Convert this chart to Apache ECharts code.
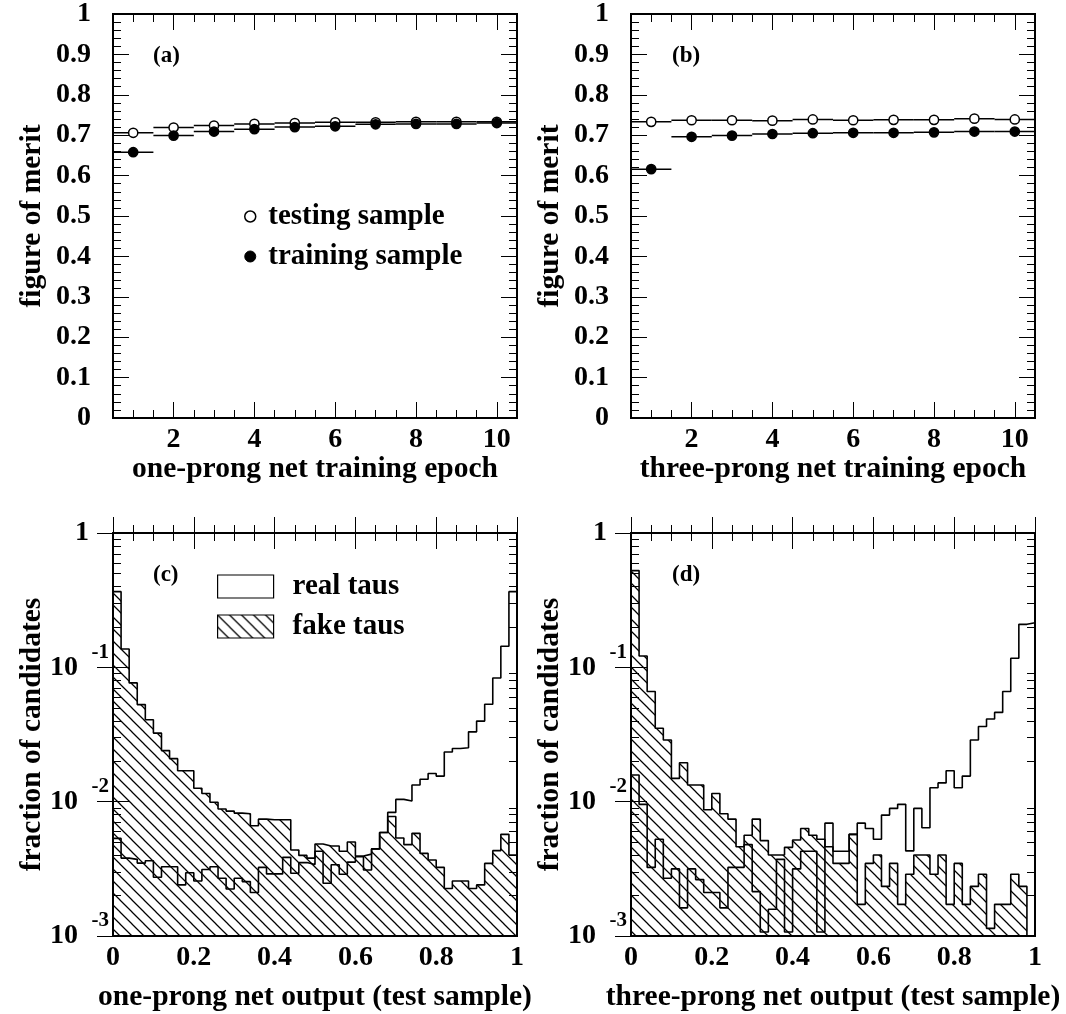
<!DOCTYPE html>
<html>
<head>
<meta charset="utf-8">
<title>Tau identification network performance</title>
<script src="https://cdn.jsdelivr.net/npm/echarts@6.0.0/dist/echarts.min.js"></script>
<style>
  html, body { margin: 0; padding: 0; background: #fff; }
  #chart { width: 1066px; height: 1014px; }
</style>
</head>
<body>
<div id="chart"></div>
<script>
// ---- figure of merit per training epoch ----
const epochs = [1, 2, 3, 4, 5, 6, 7, 8, 9, 10];
const oneProngTesting    = [0.706, 0.719, 0.724, 0.728, 0.730, 0.732, 0.732, 0.733, 0.733, 0.733];
const oneProngTraining   = [0.658, 0.699, 0.709, 0.715, 0.720, 0.722, 0.727, 0.728, 0.728, 0.730];
const threeProngTesting  = [0.733, 0.737, 0.737, 0.736, 0.739, 0.737, 0.738, 0.738, 0.741, 0.739];
const threeProngTraining = [0.616, 0.696, 0.699, 0.703, 0.705, 0.706, 0.706, 0.707, 0.709, 0.709];

// ---- net output distributions, 50 equal bins on [0, 1], fraction of candidates ----
const oneProngReal = [
  0.00533, 0.00380, 0.00372, 0.00349, 0.00363, 0.00274, 0.00328, 0.00328, 0.00240, 0.00296,
  0.00257, 0.00313, 0.00328, 0.00269, 0.00224, 0.00269, 0.00254, 0.00211, 0.00324, 0.00290,
  0.00290, 0.00385, 0.00293, 0.00352, 0.00341, 0.00427, 0.00247, 0.00339, 0.00288, 0.00355,
  0.00389, 0.00310, 0.00445, 0.00589, 0.00832, 0.0104, 0.0101, 0.0133, 0.0147, 0.0162,
  0.0155, 0.0234, 0.0249, 0.0252, 0.0331, 0.0398, 0.0531, 0.0832, 0.1435, 0.366
];
const oneProngFake = [
  0.366, 0.137, 0.0766, 0.0528, 0.0407, 0.0324, 0.0240, 0.0209, 0.0170, 0.0170,
  0.0126, 0.0115, 0.00989, 0.00881, 0.00851, 0.00822, 0.00813, 0.00661, 0.00741, 0.00733,
  0.00733, 0.00733, 0.00437, 0.00398, 0.00380, 0.00484, 0.00468, 0.00468, 0.00427, 0.00501,
  0.00394, 0.00407, 0.00445, 0.00589, 0.00776, 0.00537, 0.00479, 0.00581, 0.00412, 0.00368,
  0.00324, 0.00226, 0.00257, 0.00257, 0.00226, 0.00240, 0.00347, 0.00432, 0.00571, 0.00401
];
const threeProngReal = [
  0.0158, 0.00955, 0.00324, 0.00525, 0.00269, 0.00316, 0.00162, 0.00316, 0.00263, 0.00211,
  0.00211, 0.00162, 0.00324, 0.00324, 0.00479, 0.00214, 0.00107, 0.00158, 0.00372, 0.00107,
  0.00316, 0.00427, 0.00427, 0.00107, 0.00692, 0.00427, 0.00427, 0.00571, 0.00692, 0.00631,
  0.00525, 0.00794, 0.00891, 0.00955, 0.00430, 0.00891, 0.00640, 0.0127, 0.0138, 0.0170,
  0.0127, 0.0155, 0.0288, 0.0363, 0.0412, 0.0462, 0.0661, 0.1167, 0.209, 0.215
];
const threeProngFake = [
  0.525, 0.1213, 0.0661, 0.0352, 0.0288, 0.0149, 0.0195, 0.0133, 0.0133, 0.00871,
  0.0115, 0.00813, 0.00741, 0.00462, 0.00562, 0.00741, 0.00513, 0.00401, 0.00401, 0.00457,
  0.00519, 0.00631, 0.00562, 0.00525, 0.00462, 0.00347, 0.00347, 0.00571, 0.00172, 0.00347,
  0.00401, 0.00234, 0.00347, 0.00172, 0.00288, 0.00401, 0.00401, 0.00288, 0.00401, 0.00172,
  0.00347, 0.00172, 0.00234, 0.00288, 0.00114, 0.00172, 0.00172, 0.00288, 0.00234, 0
];

// ---- tick values ----
const epochTicks = [2, 4, 6, 8, 10];
const epochMinorTicks = [1, 1.5, 2.5, 3, 3.5, 4.5, 5, 5.5, 6.5, 7, 7.5, 8.5, 9, 9.5];
const LOG_MIN = 0.001, LOG_MAX = 1;

// log-scale minor ticks (2..9 within each decade), expressed as log10 values
const decadeMinorTicks = [];
for (let e = Math.log10(LOG_MIN); e < Math.log10(LOG_MAX); e++) {
  for (let k = 2; k <= 9; k++) decadeMinorTicks.push(e + Math.log10(k));
}

const FONT = 'Liberation Serif';
const labelFont = { fontFamily: FONT, fontWeight: 'bold', fontSize: 28, color: '#000' };
const nameFont  = { fontFamily: FONT, fontWeight: 'bold', fontSize: 29.5, color: '#000' };

// diagonal hatching used for the fake-tau histograms
function makeHatch(size) {
  const c = document.createElement('canvas');
  c.width = size; c.height = size;
  const ctx = c.getContext('2d');
  ctx.strokeStyle = '#000';
  ctx.lineWidth = 1.25;
  ctx.beginPath();
  ctx.moveTo(-1, -1); ctx.lineTo(size + 1, size + 1);
  ctx.moveTo(-1, size - 1); ctx.lineTo(1, size + 1);
  ctx.moveTo(size - 1, -1); ctx.lineTo(size + 1, 1);
  ctx.stroke();
  return c;
}
const hatchFill = { image: makeHatch(12), repeat: 'repeat' };

const tickLine = { color: '#000', width: 1 };
function ticks(len, extra) {
  return Object.assign({ show: true, inside: true, length: len, lineStyle: tickLine }, extra || {});
}

const grids = [
  { left: 113, top: 14,  width: 404, height: 404 },
  { left: 631, top: 14,  width: 404, height: 404 },
  { left: 113, top: 533, width: 404, height: 403 },
  { left: 631, top: 533, width: 404, height: 403 }
].map(g => Object.assign({
  show: true, borderColor: '#000', borderWidth: 2,
  backgroundColor: 'rgba(0,0,0,0)', containLabel: false, outerBoundsMode: 'none'
}, g));

const xAxes = [], yAxes = [], series = [];
function addAxis(list, cfg) { list.push(cfg); return list.length - 1; }

// points with a horizontal bar spanning the epoch bin
function meritSeries(name, xs, ys, xi, yi, filled) {
  return {
    type: 'custom', name, xAxisIndex: xi, yAxisIndex: yi, silent: true,
    z: filled ? 4 : 3,
    data: xs.map((x, i) => [x, ys[i]]),
    renderItem(params, api) {
      const x = api.value(0), y = api.value(1);
      const a = api.coord([x - 0.5, y]);
      const b = api.coord([x + 0.5, y]);
      const c = api.coord([x, y]);
      return {
        type: 'group',
        children: [
          { type: 'line', shape: { x1: a[0], y1: a[1], x2: b[0], y2: b[1] },
            style: { stroke: '#000', lineWidth: 1.5 } },
          { type: 'circle', shape: { cx: c[0], cy: c[1], r: 4.6 },
            style: { fill: filled ? '#000' : '#fff', stroke: '#000', lineWidth: 1.5 } }
        ]
      };
    }
  };
}

// step histogram; bins below the axis floor sit on the frame
function histSeries(name, values, xi, yi, hatched) {
  const n = values.length;
  const pts = values.map((v, i) => [i / n, Math.max(v, LOG_MIN)]);
  pts.push([1, Math.max(values[n - 1], LOG_MIN)]);
  const s = {
    type: 'line', name, xAxisIndex: xi, yAxisIndex: yi, data: pts,
    step: 'end', symbol: 'none', silent: true, z: hatched ? 2 : 3,
    lineStyle: { color: '#000', width: 1.6 }
  };
  if (hatched) s.areaStyle = { color: hatchFill, opacity: 1, origin: 'start' };
  return s;
}

function meritPanel(g, xName, testing, training) {
  const xc = { gridIndex: g, type: 'value', min: 0.5, max: 10.5,
    axisLine: { show: false }, splitLine: { show: false } };
  const xb = addAxis(xAxes, Object.assign({}, xc, {
    position: 'bottom',
    axisTick: ticks(16, { customValues: epochTicks }),
    axisLabel: Object.assign({ customValues: epochTicks, margin: 8 }, labelFont),
    name: xName, nameLocation: 'middle', nameGap: 36, nameTextStyle: nameFont, nameMoveOverlap: false
  }));
  addAxis(xAxes, Object.assign({}, xc, { position: 'bottom',
    axisTick: ticks(8, { customValues: epochMinorTicks }), axisLabel: { show: false } }));
  addAxis(xAxes, Object.assign({}, xc, { position: 'top',
    axisTick: ticks(16, { customValues: epochTicks }), axisLabel: { show: false } }));
  addAxis(xAxes, Object.assign({}, xc, { position: 'top',
    axisTick: ticks(8, { customValues: epochMinorTicks }), axisLabel: { show: false } }));

  const yc = { gridIndex: g, type: 'value', min: 0, max: 1, interval: 0.1,
    axisLine: { show: false }, splitLine: { show: false },
    minorTick: { show: true, splitNumber: 5, length: 8, lineStyle: tickLine },
    minorSplitLine: { show: false } };
  const yl = addAxis(yAxes, Object.assign({}, yc, {
    position: 'left', axisTick: ticks(16),
    axisLabel: Object.assign({ margin: 22, showMinLabel: true, showMaxLabel: true }, labelFont),
    name: 'figure of merit', nameLocation: 'middle', nameGap: 66, nameTextStyle: nameFont,
    nameMoveOverlap: false
  }));
  addAxis(yAxes, Object.assign({}, yc, { position: 'right', axisTick: ticks(16), axisLabel: { show: false } }));

  series.push(meritSeries('testing sample', epochs, testing, xb, yl, false));
  series.push(meritSeries('training sample', epochs, training, xb, yl, true));
}

const powerRich = {
  one:  Object.assign({}, labelFont, { padding: [0, 20, 0, 0] }),
  sup:  { fontFamily: FONT, fontWeight: 'bold', fontSize: 21, lineHeight: 16, color: '#000',
          padding: [0, 0, 4, 0] },
  base: Object.assign({}, labelFont, { lineHeight: 26, padding: [0, 31, 16, 0] })
};
function powerLabel(v) {
  const e = Math.round(Math.log10(v));
  return e === 0 ? '{one|1}' : '{sup|' + e + '}\n{base|10}';
}

function outputPanel(g, xName, real, fake) {
  const xc = { gridIndex: g, type: 'value', min: 0, max: 1, interval: 0.2,
    axisLine: { show: false }, splitLine: { show: false },
    minorTick: { show: true, splitNumber: 4, length: 8, lineStyle: tickLine },
    minorSplitLine: { show: false } };
  const xb = addAxis(xAxes, Object.assign({}, xc, {
    position: 'bottom', axisTick: ticks(16),
    axisLabel: Object.assign({ margin: 8, showMinLabel: true, showMaxLabel: true }, labelFont),
    name: xName, nameLocation: 'middle', nameGap: 46, nameTextStyle: nameFont, nameMoveOverlap: false
  }));
  addAxis(xAxes, Object.assign({}, xc, { position: 'top', axisTick: ticks(16), axisLabel: { show: false } }));

  const yc = { gridIndex: g, type: 'log', logBase: 10, min: LOG_MIN, max: LOG_MAX,
    axisLine: { show: false }, splitLine: { show: false } };
  const yl = addAxis(yAxes, Object.assign({}, yc, {
    position: 'left', axisTick: ticks(16),
    axisLabel: Object.assign({ margin: 4, showMinLabel: true, showMaxLabel: true,
      formatter: powerLabel, rich: powerRich }, labelFont),
    name: 'fraction of candidates', nameLocation: 'middle', nameGap: 66, nameTextStyle: nameFont,
    nameMoveOverlap: false
  }));
  addAxis(yAxes, Object.assign({}, yc, { position: 'right', axisTick: ticks(16), axisLabel: { show: false } }));

  // minor decade ticks on both sides
  const hc = { gridIndex: g, type: 'value', min: Math.log10(LOG_MIN), max: Math.log10(LOG_MAX),
    axisLine: { show: false }, splitLine: { show: false }, axisLabel: { show: false },
    axisTick: ticks(8, { customValues: decadeMinorTicks }) };
  addAxis(yAxes, Object.assign({}, hc, { position: 'left' }));
  addAxis(yAxes, Object.assign({}, hc, { position: 'right' }));

  series.push(histSeries('fake taus', fake, xb, yl, true));
  series.push(histSeries('real taus', real, xb, yl, false));
}

meritPanel(0, 'one-prong net training epoch', oneProngTesting, oneProngTraining);
meritPanel(1, 'three-prong net training epoch', threeProngTesting, threeProngTraining);
outputPanel(2, 'one-prong net output (test sample)', oneProngReal, oneProngFake);
outputPanel(3, 'three-prong net output (test sample)', threeProngReal, threeProngFake);

const tagFont = { fontFamily: FONT, fontWeight: 'bold', fontSize: 23, color: '#000' };
const tags = [
  { text: '(a)', left: 153, top: 45 },
  { text: '(b)', left: 672, top: 45 },
  { text: '(c)', left: 153, top: 564 },
  { text: '(d)', left: 672, top: 564 }
].map(t => Object.assign({ padding: 0, textStyle: tagFont }, t));

const legendText = { fontFamily: FONT, fontWeight: 'bold', fontSize: 29, color: '#000' };

const option = {
  animation: false,
  backgroundColor: '#fff',
  textStyle: { fontFamily: FONT },
  title: tags,
  grid: grids,
  legend: [
    {
      orient: 'vertical', left: 244, top: 202, padding: 0, itemGap: 11,
      itemWidth: 22, itemHeight: 11, selectedMode: false,
      textStyle: Object.assign({ padding: [0, 0, 0, 2] }, legendText),
      data: [
        { name: 'testing sample', icon: 'circle',
          itemStyle: { color: '#fff', borderColor: '#000', borderWidth: 1.5 } },
        { name: 'training sample', icon: 'circle',
          itemStyle: { color: '#000', borderColor: '#000', borderWidth: 1 } }
      ]
    },
    {
      orient: 'vertical', left: 217, top: 572, padding: 0, itemGap: 11,
      itemWidth: 56, itemHeight: 23, selectedMode: false,
      textStyle: Object.assign({ padding: [0, 0, 0, 14] }, legendText),
      data: [
        { name: 'real taus', icon: 'rect',
          itemStyle: { color: '#fff', borderColor: '#000', borderWidth: 1.2 } },
        { name: 'fake taus', icon: 'rect',
          itemStyle: { color: hatchFill, borderColor: '#000', borderWidth: 1.2 } }
      ]
    }
  ],
  xAxis: xAxes,
  yAxis: yAxes,
  series: series
};

const chart = echarts.init(document.getElementById('chart'), null, { renderer: 'canvas' });
chart.setOption(option);
</script>
</body>
</html>
